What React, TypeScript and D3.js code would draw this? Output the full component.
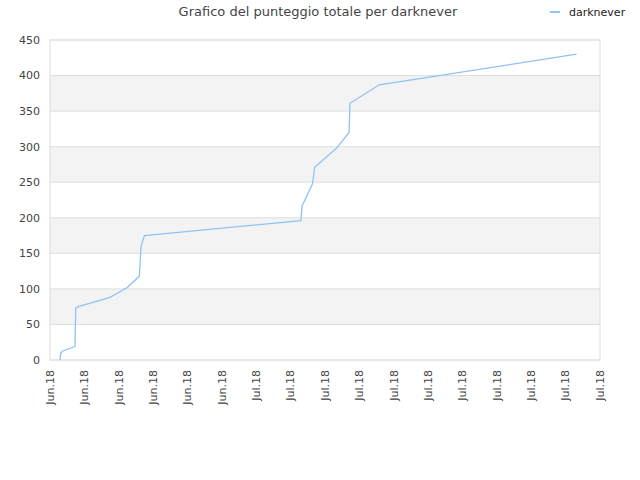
import * as d3 from "d3";
import React from "react";

// readings
const times = [
  "2018-06-20T14:00", "2018-06-20T15:00", "2018-06-20T18:30", "2018-06-21T10:50",
  "2018-06-21T12:00", "2018-06-21T15:40", "2018-06-23T11:45", "2018-06-24T12:00",
  "2018-06-25T04:50", "2018-06-25T07:00", "2018-06-25T11:45", "2018-06-26T09:35",
  "2018-07-04T14:25", "2018-07-04T15:50", "2018-07-05T06:40", "2018-07-05T09:35",
  "2018-07-06T16:20", "2018-07-07T09:35", "2018-07-07T10:50", "2018-07-09T03:50",
  "2018-07-20T15:20",
];
const scores = [0, 10, 13, 19, 73, 75, 88, 102, 118, 159, 175, 177, 196, 216, 248, 271, 298, 320, 361, 387, 430];
const yTicks = [0, 50, 100, 150, 200, 250, 300, 350, 400, 450];
const seriesName = "darknever";
const title = "Grafico del punteggio totale per darknever";

const W = 640, H = 480;
const m = { l: 50, r: 40, t: 40, b: 120 };
const font = "'DejaVu Sans', sans-serif";

const App: React.FC = () => {
  const parse = d3.timeParse("%Y-%m-%dT%H:%M");
  const data = times.map((t, i) => ({ t: parse(t) as Date, v: scores[i] }));

  const start = new Date(2018, 5, 20);
  const x = d3.scaleTime([start, d3.timeDay.offset(start, 32)], [m.l, W - m.r]);
  const y = d3.scaleLinear([0, 450], [H - m.b, m.t]);
  // a tick every two days, from the left edge
  const xTicks = d3.range(17).map(i => d3.timeDay.offset(start, 2 * i));
  const fmt = (d: Date) => d3.timeFormat("%b")(d) + ".18";

  const line = d3.line<{ t: Date; v: number }>().x(d => x(d.t)).y(d => y(d.v));

  return (
    <svg width={W} height={H} style={{ position: "absolute", left: 0, top: 0 }} fontFamily={font}>
      <rect width={W} height={H} fill="#fff" />
      {yTicks.slice(0, -1).map((v, i) => i % 2 === 1 ? (
        <rect key={"b" + v} x={m.l} y={y(v + 50)} width={W - m.r - m.l} height={y(v) - y(v + 50)} fill="#f3f3f3" />
      ) : null)}
      {yTicks.map(v => (
        <line key={"g" + v} x1={m.l} x2={W - m.r} y1={y(v)} y2={y(v)} stroke="#dedede" />
      ))}
      <rect x={m.l} y={m.t} width={W - m.r - m.l} height={H - m.b - m.t} fill="none" stroke="#dedede" />
      {yTicks.map(v => (
        <text key={"y" + v} x={m.l - 10} y={y(v)} dy="0.35em" textAnchor="end" fontSize={11} fill="#444">{v}</text>
      ))}
      {xTicks.map((d, i) => (
        <text key={"x" + i} transform={`translate(${x(d)},${H - m.b + 10}) rotate(-90)`} dy="0.35em" textAnchor="end" fontSize={11} fill="#444">{fmt(d)}</text>
      ))}
      <path d={line(data) ?? ""} fill="none" stroke="#8fc3f5" strokeWidth={1.3} />
      <text x={318} y={16} textAnchor="middle" fontSize={13} fill="#444">{title}</text>
      <line x1={550} x2={560} y1={12} y2={12} stroke="#8fc3f5" strokeWidth={2} />
      <text x={569} y={12} dy="0.35em" fontSize={11} fill="#222">{seriesName}</text>
    </svg>
  );
};

export default App;
